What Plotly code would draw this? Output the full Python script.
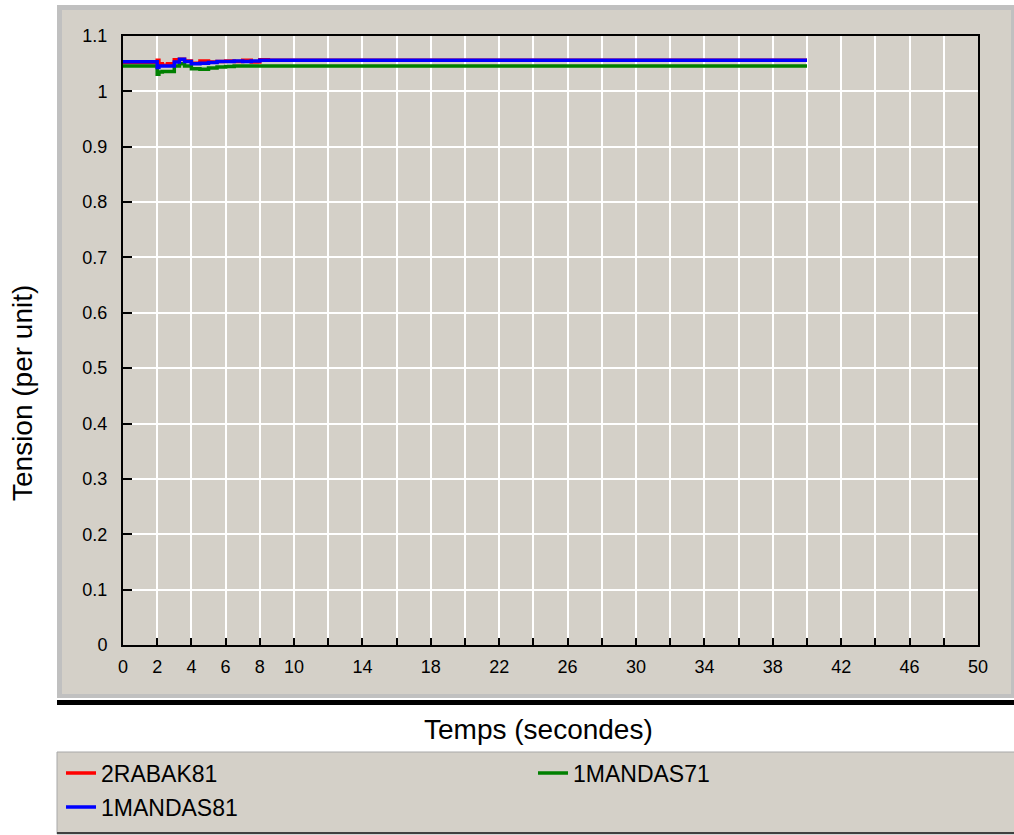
import plotly.graph_objects as go

# ---- data ----
time_s = [0, 1.9, 2.0, 2.1, 2.3, 2.6, 3.0, 3.3, 3.6, 4.0, 4.5, 5.0, 5.5, 6.0, 6.5, 7.0, 7.5, 8.0, 8.5, 40]
rabak81 = [1.052, 1.052, 1.056, 1.050, 1.047, 1.050, 1.057, 1.058, 1.055, 1.051, 1.055, 1.053,
           1.054, 1.055, 1.054, 1.056, 1.053, 1.057, 1.056, 1.056]
mandas81 = [1.0537, 1.0537, 1.043, 1.046, 1.046, 1.046, 1.053, 1.058, 1.054, 1.050, 1.051, 1.052,
            1.054, 1.054, 1.055, 1.054, 1.055, 1.056, 1.056, 1.056]
mandas71 = [1.046, 1.046, 1.031, 1.035, 1.036, 1.036, 1.046, 1.050, 1.046, 1.041, 1.040, 1.042,
            1.044, 1.045, 1.046, 1.046, 1.046, 1.046, 1.046, 1.046]

x_tick_vals = list(range(0, 51, 2))
x_labelled = [0, 2, 4, 6, 8, 10, 14, 18, 22, 26, 30, 34, 38, 42, 46, 50]
y_tick_vals = [0, 0.1, 0.2, 0.3, 0.4, 0.5, 0.6, 0.7, 0.8, 0.9, 1.0, 1.1]
y_tick_text = ["0", "0.1", "0.2", "0.3", "0.4", "0.5", "0.6", "0.7", "0.8", "0.9", "1", "1.1"]

# ---- layout geometry (pixels) ----
W, H = 1014, 835
L, R, T, B = 123, 978, 36, 645
PW, PH = R - L, B - T


def px(xp):
    return (xp - L) / PW


def py(yp):
    return (B - yp) / PH


FONT = "Liberation Sans, Arial, sans-serif"
PANEL = "#D4D0C8"

fig = go.Figure()
fig.add_trace(go.Scatter(x=time_s, y=rabak81, mode="lines", name="2RABAK81",
                         line=dict(color="#FF0000", width=3.5, shape="hv"), legend="legend"))
fig.add_trace(go.Scatter(x=time_s, y=mandas71, mode="lines", name="1MANDAS71",
                         line=dict(color="#008000", width=3.5, shape="hv"), legend="legend2"))
fig.add_trace(go.Scatter(x=time_s, y=mandas81, mode="lines", name="1MANDAS81",
                         line=dict(color="#0000FF", width=3.5, shape="hv"), legend="legend3"))

shapes = [
    dict(type="rect", xref="paper", yref="paper", x0=px(57), x1=px(1016), y0=py(698), y1=py(5),
         fillcolor="#C0C0C0", line=dict(width=0), layer="below"),
    dict(type="rect", xref="paper", yref="paper", x0=px(62), x1=px(1011), y0=py(694), y1=py(10),
         fillcolor=PANEL, line=dict(width=0), layer="below"),
    dict(type="rect", xref="paper", yref="paper", x0=px(57), x1=px(1016), y0=py(705), y1=py(700),
         fillcolor="#000000", line=dict(width=0), layer="below"),
    dict(type="rect", xref="paper", yref="paper", x0=px(57), x1=px(1016), y0=py(834), y1=py(752),
         fillcolor=PANEL, line=dict(color="#A8A8A8", width=1), layer="below"),
    dict(type="line", xref="paper", yref="paper", x0=px(57), x1=px(1016), y0=py(833), y1=py(833),
         line=dict(color="#404040", width=2), layer="below"),
]

leg_common = dict(font=dict(family=FONT, size=23, color="#000000"), bgcolor="rgba(0,0,0,0)",
                  borderwidth=0, xanchor="left", yanchor="middle", orientation="v")

fig.update_layout(
    width=W, height=H, autosize=False,
    margin=dict(l=L, r=W - R, t=T, b=H - B, pad=0, autoexpand=False),
    paper_bgcolor="#FFFFFF", plot_bgcolor=PANEL,
    font=dict(family=FONT, color="#000000"),
    showlegend=True,
    legend=dict(x=px(61), y=py(773), **leg_common),
    legend2=dict(x=px(533), y=py(773), **leg_common),
    legend3=dict(x=px(61), y=py(807), **leg_common),
    shapes=shapes,
    annotations=[
        dict(text="Temps (secondes)", xref="paper", yref="paper", x=px(538), y=py(729),
             xanchor="center", yanchor="middle", showarrow=False,
             font=dict(family=FONT, size=28, color="#000000")),
        dict(text="Tension (per unit)", xref="paper", yref="paper", x=px(22), y=py(393),
             xanchor="center", yanchor="middle", showarrow=False, textangle=-90,
             font=dict(family=FONT, size=28, color="#000000")),
    ],
)

fig.update_xaxes(
    range=[0, 50], tickmode="array", tickvals=x_tick_vals,
    ticktext=[str(v) if v in x_labelled else "" for v in x_tick_vals],
    ticks="inside", ticklen=7, tickcolor="#000000", tickwidth=1.5,
    showline=True, linecolor="#000000", linewidth=2, mirror=True,
    showgrid=True, gridcolor="#FFFFFF", gridwidth=1.5, zeroline=False,
    tickfont=dict(family=FONT, size=18, color="#000000"), ticklabelstandoff=4,
)
fig.update_yaxes(
    range=[0, 1.1], tickmode="array", tickvals=y_tick_vals, ticktext=y_tick_text,
    ticks="inside", ticklen=9, tickcolor="#000000", tickwidth=1.5,
    showline=True, linecolor="#000000", linewidth=2, mirror=True,
    showgrid=True, gridcolor="#FFFFFF", gridwidth=1.5, zeroline=False,
    tickfont=dict(family=FONT, size=18, color="#000000"), ticklabelstandoff=10,
)

fig.write_html("out.html", config={"displayModeBar": False},
               post_script="document.body.style.margin='0';document.body.style.overflow='hidden';")
